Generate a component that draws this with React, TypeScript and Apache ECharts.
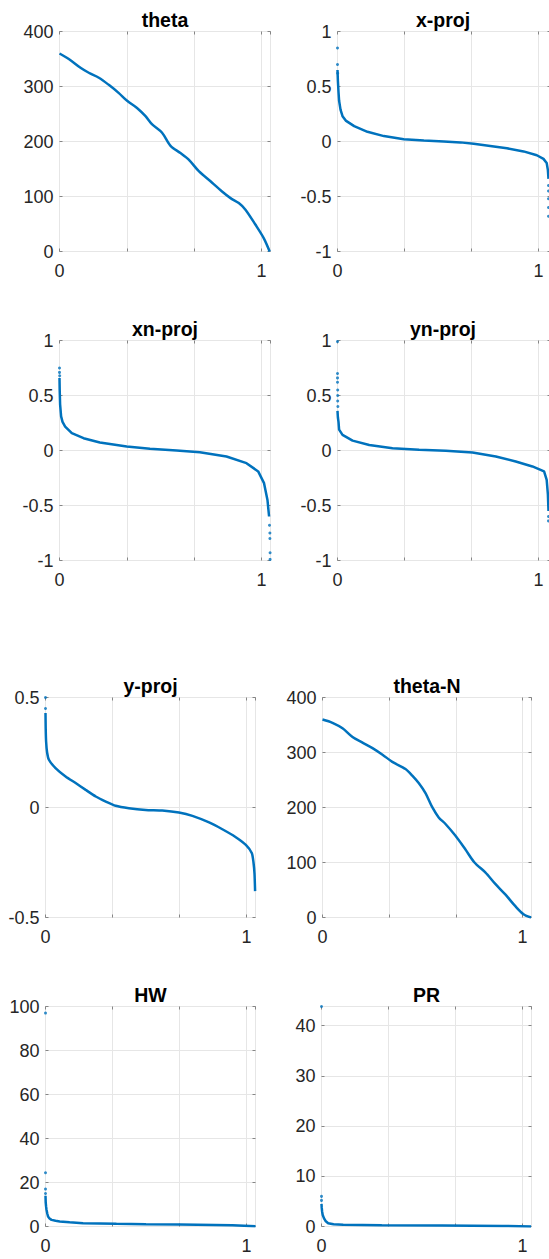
import React, { useEffect, useRef } from 'react';
import * as echarts from 'echarts';

// ---------- data ----------
const titles = ['theta', 'x-proj', 'xn-proj', 'yn-proj', 'y-proj', 'theta-N', 'HW', 'PR'];

const thetaX = [0, 0.046, 0.104, 0.145, 0.195, 0.244, 0.294, 0.335, 0.384, 0.426, 0.459, 0.508, 0.55, 0.599, 0.64, 0.69, 0.756, 0.805, 0.847, 0.888, 0.921, 0.97, 1.012, 1.041];
const thetaY = [360, 350, 334, 325, 316, 303, 288, 274, 261, 246, 231, 216, 192, 179, 167, 146, 125, 109, 97, 88, 76, 49, 24, 0];

const xProjX = [0, 0.002, 0.005, 0.008, 0.015, 0.025, 0.041, 0.083, 0.149, 0.231, 0.33, 0.43, 0.529, 0.612, 0.678, 0.76, 0.843, 0.926, 0.992, 1.025, 1.041, 1.047, 1.05];
const xProjY = [0.65, 0.55, 0.45, 0.37, 0.29, 0.23, 0.19, 0.14, 0.088, 0.049, 0.021, 0.009, 0, -0.008, -0.021, -0.04, -0.062, -0.09, -0.125, -0.158, -0.196, -0.26, -0.34];
const xProjOut = [[0, 0.85], [0, 0.7], [0.001, 0.62], [1.05, -0.4], [1.05, -0.45], [1.05, -0.52], [1.05, -0.6], [1.05, -0.68]];

const xnProjX = [0, 0.001, 0.003, 0.008, 0.015, 0.028, 0.061, 0.119, 0.2, 0.333, 0.448, 0.58, 0.695, 0.827, 0.926, 0.984, 1.013, 1.03, 1.038];
const xnProjY = [0.66, 0.55, 0.42, 0.31, 0.26, 0.218, 0.158, 0.112, 0.073, 0.036, 0.015, 0, -0.015, -0.055, -0.115, -0.19, -0.297, -0.45, -0.6];
const xnProjOut = [[0, 0.75], [0, 0.71], [0.001, 0.68], [1.04, -0.68], [1.042, -0.75], [1.042, -0.8], [1.043, -0.93], [1.043, -0.99]];

const ynProjX = [0, 0.002, 0.005, 0.008, 0.025, 0.075, 0.158, 0.274, 0.406, 0.539, 0.672, 0.788, 0.887, 0.97, 1.028, 1.041, 1.047, 1.05];
const ynProjY = [0.36, 0.3, 0.26, 0.19, 0.142, 0.09, 0.05, 0.021, 0.006, -0.003, -0.018, -0.055, -0.1, -0.145, -0.19, -0.267, -0.4, -0.55];
const ynProjOut = [[0, 0.99], [0, 0.7], [0, 0.66], [0, 0.62], [0.001, 0.55], [0.001, 0.5], [0.001, 0.45], [0.002, 0.4], [1.05, -0.6], [1.05, -0.64]];

const yProjX = [0, 0.001, 0.003, 0.008, 0.017, 0.05, 0.1, 0.15, 0.2, 0.25, 0.3, 0.349, 0.415, 0.498, 0.581, 0.664, 0.731, 0.814, 0.88, 0.947, 0.997, 1.027, 1.035, 1.04, 1.043];
const yProjY = [0.43, 0.36, 0.3, 0.25, 0.217, 0.179, 0.141, 0.111, 0.08, 0.05, 0.027, 0.008, -0.003, -0.011, -0.014, -0.023, -0.038, -0.068, -0.099, -0.135, -0.17, -0.208, -0.25, -0.3, -0.38];
const yProjOut = [[0, 0.5], [0, 0.45]];

const thetaNX = [0, 0.05, 0.1, 0.15, 0.2, 0.25, 0.3, 0.349, 0.415, 0.449, 0.482, 0.515, 0.548, 0.581, 0.615, 0.664, 0.714, 0.76, 0.814, 0.864, 0.914, 0.963, 1.005, 1.043];
const thetaNY = [360, 354, 344, 328, 318, 308, 296, 283, 270, 258, 244, 226, 201, 182, 170, 149, 124, 100, 82, 61, 42, 21, 6, 0];

const hwX = [0, 0.001, 0.003, 0.005, 0.009, 0.013, 0.02, 0.03, 0.05, 0.071, 0.12, 0.187, 0.353, 0.5, 0.667, 0.93, 1.045];
const hwY = [14, 11, 9, 7.6, 5.8, 4.5, 3.6, 3, 2.6, 2.3, 1.9, 1.5, 1.2, 1.05, 0.9, 0.6, 0.15];
const hwOut = [[0, 97], [0, 24.4], [0, 17], [0, 15]];

const prX = [0, 0.001, 0.003, 0.006, 0.012, 0.02, 0.033, 0.06, 0.108, 0.3, 0.6, 0.9, 1.043];
const prY = [4.5, 3.8, 3, 2.3, 1.66, 1.1, 0.66, 0.45, 0.33, 0.25, 0.2, 0.12, 0.02];
const prOut = [[0, 43.8], [0, 6], [0, 5.2]];

const seriesX = [thetaX, xProjX, xnProjX, ynProjX, yProjX, thetaNX, hwX, prX];
const seriesY = [thetaY, xProjY, xnProjY, ynProjY, yProjY, thetaNY, hwY, prY];
const outliers = [[], xProjOut, xnProjOut, ynProjOut, yProjOut, [], hwOut, prOut];
const smoothFlags = [0.3, 0, 0, 0, 0.2, 0.3, 0, 0];

const yMins = [0, -1, -1, -1, -0.5, 0, 0, 0];
const yMaxs = [400, 1, 1, 1, 0.5, 400, 100, 43.8];
const yIntervals = [100, 0.5, 0.5, 0.5, 0.5, 100, 20, 10];
const xTickInterval = 1 / 3;

// ---------- layout ----------
const layout = [
  { left: 59.5, top: 31.5, width: 211, height: 220, xmax: 1.045 },
  { left: 337.5, top: 31.5, width: 213, height: 220, xmax: 1.06 },
  { left: 59.5, top: 340.5, width: 211, height: 220, xmax: 1.045 },
  { left: 337.5, top: 340.5, width: 213, height: 220, xmax: 1.06 },
  { left: 45.5, top: 697.5, width: 210, height: 220, xmax: 1.045 },
  { left: 322.5, top: 697.5, width: 209, height: 220, xmax: 1.045 },
  { left: 45.5, top: 1006.5, width: 210, height: 220, xmax: 1.045 },
  { left: 321.5, top: 1006.5, width: 210, height: 220, xmax: 1.045 },
];

const FONT = '"Liberation Sans", Arial, Helvetica, sans-serif';
const BLUE = '#0072BD';
const BOX = '#858585';
const GRID = '#e6e6e6';
const LABEL = '#262626';

function buildOption() {
  const grid: any[] = [];
  const xAxis: any[] = [];
  const yAxis: any[] = [];
  const series: any[] = [];
  const title: any[] = [];

  layout.forEach((L, i) => {
    grid.push({
      left: L.left, top: L.top, width: L.width, height: L.height,
      show: true, borderColor: BOX, borderWidth: 1, backgroundColor: 'transparent',
    });
    title.push({
      text: titles[i], left: L.left + L.width / 2 - (i === 1 || i === 3 ? 1 : 0), top: L.top - 22,
      textAlign: 'center', padding: 0,
      textStyle: { fontSize: 19.5, fontWeight: 'bold', color: '#000', fontFamily: FONT },
    });
    const tick = { show: true, inside: true, length: 3, lineStyle: { color: BOX, width: 1 } };
    // primary x
    xAxis.push({
      gridIndex: i, type: 'value', position: 'bottom', min: 0, max: L.xmax, interval: xTickInterval,
      axisLine: { show: false, onZero: false }, axisTick: tick,
      splitLine: { show: true, lineStyle: { color: GRID, width: 1 } },
      axisLabel: {
        show: true, margin: 10, fontSize: 18, color: LABEL, fontFamily: FONT,
        showMinLabel: true, showMaxLabel: false,
        formatter: (v: number) => (Math.abs(v) < 1e-6 ? '0' : Math.abs(v - 1) < 1e-6 ? '1' : ''),
      },
    });
    // secondary x (top ticks)
    xAxis.push({
      gridIndex: i, type: 'value', position: 'top', min: 0, max: L.xmax, interval: xTickInterval,
      axisLine: { show: false, onZero: false }, axisTick: tick,
      splitLine: { show: false }, axisLabel: { show: false },
    });
    yAxis.push({
      gridIndex: i, type: 'value', position: 'left', min: yMins[i], max: yMaxs[i], interval: yIntervals[i],
      axisLine: { show: false, onZero: false }, axisTick: tick,
      splitLine: { show: true, lineStyle: { color: GRID, width: 1 } },
      axisLabel: {
        show: true, margin: 6, fontSize: 18, color: LABEL, fontFamily: FONT,
        showMinLabel: true, showMaxLabel: i !== 7,
      },
    });
    yAxis.push({
      gridIndex: i, type: 'value', position: 'right', min: yMins[i], max: yMaxs[i], interval: yIntervals[i],
      axisLine: { show: false, onZero: false }, axisTick: tick,
      splitLine: { show: false }, axisLabel: { show: false },
    });
    const xs = seriesX[i];
    const ys = seriesY[i];
    series.push({
      type: 'line', xAxisIndex: 2 * i, yAxisIndex: 2 * i,
      data: xs.map((x, k) => [x, ys[k]]),
      showSymbol: false, symbol: 'none', smooth: smoothFlags[i] || false,
      lineStyle: { color: BLUE, width: 2.5 }, clip: true, z: 3,
    });
    if (outliers[i].length) {
      series.push({
        type: 'scatter', xAxisIndex: 2 * i, yAxisIndex: 2 * i,
        data: outliers[i], symbolSize: 3, itemStyle: { color: BLUE }, z: 3,
      });
    }
  });

  return { animation: false, backgroundColor: '#fff', title, grid, xAxis, yAxis, series };
}

export default function App() {
  const ref = useRef<HTMLDivElement>(null);
  useEffect(() => {
    if (!ref.current) return;
    const chart = echarts.init(ref.current, undefined, { renderer: 'svg' });
    chart.setOption(buildOption() as any);
    return () => chart.dispose();
  }, []);
  return (
    <div style={{ position: 'absolute', left: 0, top: 0, width: 549, height: 1259, overflow: 'hidden', background: '#fff' }}>
      <div ref={ref} style={{ width: 560, height: 1259 }} />
    </div>
  );
}
